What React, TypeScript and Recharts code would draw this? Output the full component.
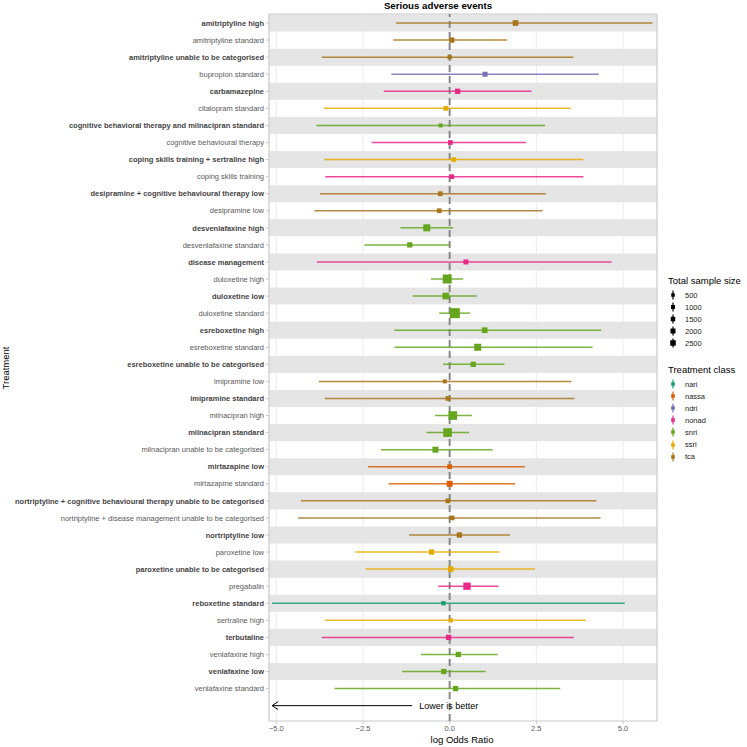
import React from 'react';
import {
  ScatterChart, Scatter, XAxis, YAxis, CartesianGrid, ErrorBar,
  ReferenceArea, ReferenceLine,
} from 'recharts';

const treatments = [
  'amitriptyline high', 'amitriptyline standard', 'amitriptyline unable to be categorised',
  'bupropion standard', 'carbamazepine', 'citalopram standard',
  'cognitive behavioral therapy and milnacipran standard', 'cognitive behavioural therapy',
  'coping skills training + sertraline high', 'coping skills training',
  'desipramine + cognitive behavioural therapy low', 'desipramine low',
  'desvenlafaxine high', 'desvenlafaxine standard', 'disease management',
  'duloxetine high', 'duloxetine low', 'duloxetine standard',
  'esreboxetine high', 'esreboxetine standard', 'esreboxetine unable to be categorised',
  'imipramine low', 'imipramine standard', 'milnacipran high', 'milnacipran standard',
  'milnacipran unable to be categorised', 'mirtazapine low', 'mirtazapine standard',
  'nortriptyline + cognitive behavioural therapy unable to be categorised',
  'nortriptyline + disease management unable to be categorised',
  'nortriptyline low', 'paroxetine low', 'paroxetine unable to be categorised',
  'pregabalin', 'reboxetine standard', 'sertraline high', 'terbutaline',
  'venlafaxine high', 'venlafaxine low', 'venlafaxine standard',
];

const treatmentClass = [
  'tca', 'tca', 'tca', 'ndri', 'nonad', 'ssri', 'snri', 'nonad', 'ssri', 'nonad',
  'tca', 'tca', 'snri', 'snri', 'nonad', 'snri', 'snri', 'snri', 'snri', 'snri',
  'snri', 'tca', 'tca', 'snri', 'snri', 'snri', 'nassa', 'nassa', 'tca', 'tca',
  'tca', 'ssri', 'ssri', 'nonad', 'nari', 'ssri', 'nonad', 'snri', 'snri', 'snri',
];

const estimate = [
  1.90, 0.06, 0.00, 1.02, 0.23, -0.11, -0.26, 0.02, 0.12, 0.06,
  -0.27, -0.30, -0.66, -1.15, 0.47, -0.07, -0.11, 0.15, 1.01, 0.81,
  0.68, -0.14, -0.05, 0.09, -0.06, -0.41, 0.00, 0.00, -0.05, 0.07,
  0.28, -0.52, 0.03, 0.50, -0.18, 0.03, -0.03, 0.25, -0.17, 0.17,
];

const lower = [
  -1.55, -1.63, -3.69, -1.68, -1.90, -3.63, -3.84, -2.25, -3.61, -3.59,
  -3.74, -3.90, -1.42, -2.46, -3.83, -0.54, -1.07, -0.30, -1.60, -1.59,
  -0.19, -3.77, -3.60, -0.42, -0.67, -1.98, -2.35, -1.76, -4.29, -4.37,
  -1.17, -2.72, -2.42, -0.33, -5.12, -3.59, -3.69, -0.83, -1.37, -3.32,
];

const upper = [
  5.85, 1.66, 3.57, 4.30, 2.36, 3.49, 2.75, 2.20, 3.86, 3.86,
  2.77, 2.68, 0.10, -0.01, 4.67, 0.39, 0.78, 0.59, 4.37, 4.12,
  1.58, 3.51, 3.60, 0.64, 0.56, 1.24, 2.17, 1.89, 4.23, 4.35,
  1.74, 1.44, 2.46, 1.41, 5.05, 3.92, 3.58, 1.39, 1.04, 3.19,
];

const sampleSize = [
  900, 790, 520, 700, 790, 620, 450, 620, 620, 620,
  620, 620, 1370, 790, 700, 2270, 1250, 2800, 900, 1370,
  790, 450, 620, 2100, 2100, 1000, 620, 1000, 620, 620,
  790, 790, 900, 1500, 520, 520, 790, 790, 790, 790,
];

const classes = ['nari', 'nassa', 'ndri', 'nonad', 'snri', 'ssri', 'tca'];
const classColors: Record<string, string> = {
  nari: '#1B9E77', nassa: '#D95F02', ndri: '#7570B3', nonad: '#E7298A',
  snri: '#66A61E', ssri: '#E6AB02', tca: '#A6761D',
};
const sizeLegend = [500, 1000, 1500, 2000, 2500];
const xTicks = [-5, -2.5, 0, 2.5, 5];

const side = (n: number) => 10 * Math.sqrt(n / 2800);

const rows = treatments.map((name, i) => ({
  name,
  cls: treatmentClass[i],
  x: estimate[i],
  y: i,
  err: [estimate[i] - lower[i], upper[i] - estimate[i]],
  n: sampleSize[i],
}));

const FONT = '"Liberation Sans", Arial, Helvetica, sans-serif';

const TreatmentTick = (props: any) => {
  const { x, y, payload } = props;
  const i = payload.value;
  const bold = i % 2 === 0;
  return (
    <text x={x} y={y} dy={2.7} textAnchor="end" fontSize={7.5} fontFamily={FONT}
      fontWeight={bold ? 'bold' : 'normal'} fill={bold ? '#444444' : '#5a5a5a'}>
      {treatments[i] ?? ''}
    </text>
  );
};

const squareShape = (p: any) => {
  const s = side(p.payload.n);
  return <rect x={p.cx - s / 2} y={p.cy - s / 2} width={s} height={s} fill={p.fill} />;
};

const ArrowShape = (p: any) => {
  const { x1, y1, x2, y2 } = p;
  return (
    <g>
      <line x1={x1} y1={y1} x2={x2} y2={y2} stroke="#000" strokeWidth={1} />
      <polyline points={`${x2 + 6},${y2 - 4} ${x2},${y2} ${x2 + 6},${y2 + 4}`} fill="none" stroke="#000" strokeWidth={1} />
      <text x={x1 + 7} y={y1 + 3.2} fontSize={9} fontFamily={FONT} fill="#000">Lower is better</text>
    </g>
  );
};

const bands = treatments.map((_, i) => i).filter(i => i % 2 === 0);

export default function App() {
  return (
    <div style={{ position: 'absolute', left: 0, top: 0, width: 747, height: 747, fontFamily: FONT, background: '#fff' }}>
      <ScatterChart width={747} height={747} margin={{ top: 14, right: 90, bottom: 10, left: 0 }}>
        {bands.map(i => (
          <ReferenceArea key={i} y1={i - 0.5} y2={i + 0.5} fill="#e5e5e5" fillOpacity={1} stroke="none" />
        ))}
        <CartesianGrid horizontal={false} stroke="#ebebeb" />
        <XAxis type="number" dataKey="x" domain={[-5.21, 5.98]} ticks={xTicks} allowDataOverflow
          tickFormatter={(v: number) => v.toFixed(1).replace('-', '\u2212')}
          axisLine={false} tickSize={3} tickLine={{ stroke: '#c8c8c8' }} height={16}
          tick={{ fontSize: 7.5, fill: '#5a5a5a', fontFamily: FONT }} />
        <YAxis type="number" dataKey="y" reversed domain={[-0.53, 40.9]} allowDataOverflow
          ticks={treatments.map((_, i) => i)} interval={0} width={269}
          axisLine={false} tickSize={3} tickLine={{ stroke: '#c8c8c8' }} tick={<TreatmentTick />} />
        <ReferenceLine x={0} stroke="#888888" strokeWidth={2} strokeDasharray="7 4" />
        {classes.map(c => (
          <Scatter key={c} name={c} data={rows.filter(r => r.cls === c)} fill={classColors[c]}
            shape={squareShape} isAnimationActive={false}>
            <ErrorBar dataKey="err" direction="x" width={0} stroke={classColors[c]} strokeWidth={1.5} strokeOpacity={0.85} />
          </Scatter>
        ))}
        <ReferenceLine segment={[{ x: -1.08, y: 40 }, { x: -5.12, y: 40 }]} shape={ArrowShape} />
        <ReferenceArea x1={-5.21} x2={5.98} y1={-0.53} y2={40.9} fill="none" fillOpacity={0} stroke="#c8c8c8" strokeWidth={1} />
      </ScatterChart>

      <div style={{ position: 'absolute', left: 338, width: 200, top: 0, textAlign: 'center', fontSize: 9.7, fontWeight: 'bold', color: '#000', lineHeight: '11px' }}>
        Serious adverse events
      </div>
      <div style={{ position: 'absolute', left: 362, width: 200, top: 734, textAlign: 'center', fontSize: 9.5, color: '#000', lineHeight: '12px' }}>
        log Odds Ratio
      </div>
      <div style={{ position: 'absolute', left: 6, top: 368, width: 0, height: 0 }}>
        <div style={{ position: 'absolute', left: -50, top: -6, width: 100, textAlign: 'center', fontSize: 9.5, lineHeight: '12px', transform: 'rotate(-90deg)' }}>
          Treatment
        </div>
      </div>

      <div style={{ position: 'absolute', left: 668, top: 275, fontSize: 9.5, lineHeight: '12px', color: '#000' }}>
        Total sample size
      </div>
      {sizeLegend.map((n, i) => {
        const s = 3.5 + i * 0.5;
        return (
          <div key={n} style={{ position: 'absolute', left: 668, top: 289 + i * 12, height: 12, display: 'flex', alignItems: 'center' }}>
            <svg width={12} height={12}>
              <line x1={5} y1={1.5} x2={5} y2={10.5} stroke="#000" strokeWidth={1.2} />
              <rect x={5 - s / 2} y={6 - s / 2} width={s} height={s} fill="#000" />
            </svg>
            <span style={{ marginLeft: 5, fontSize: 7.5, color: '#222' }}>{n}</span>
          </div>
        );
      })}

      <div style={{ position: 'absolute', left: 668, top: 364, fontSize: 9.5, lineHeight: '12px', color: '#000' }}>
        Treatment class
      </div>
      {classes.map((c, i) => (
        <div key={c} style={{ position: 'absolute', left: 668, top: 378 + i * 12.1, height: 12, display: 'flex', alignItems: 'center' }}>
          <svg width={12} height={12}>
            <line x1={5} y1={1.5} x2={5} y2={10.5} stroke={classColors[c]} strokeWidth={1.2} />
            <rect x={3.2} y={4.2} width={3.6} height={3.6} fill={classColors[c]} />
          </svg>
          <span style={{ marginLeft: 5, fontSize: 7.5, color: '#222' }}>{c}</span>
        </div>
      ))}
    </div>
  );
}
